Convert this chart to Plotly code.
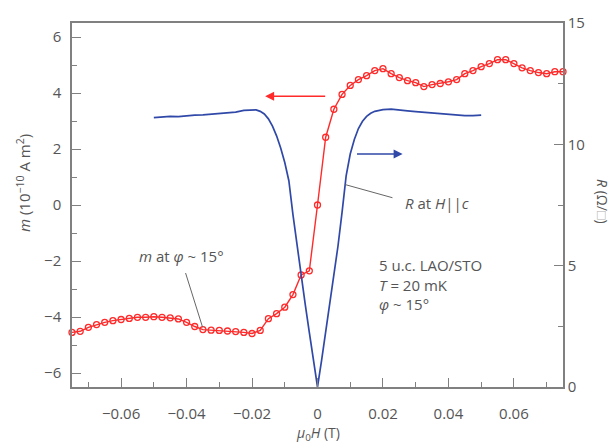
import plotly.graph_objects as go

# Magnetic moment m (left axis), open markers every 2.5 mT
m_field = [
    -0.075, -0.0725, -0.070, -0.0675, -0.065, -0.0625, -0.060, -0.0575, -0.055, -0.0525,
    -0.050, -0.0475, -0.045, -0.0425, -0.040, -0.0375, -0.035, -0.0325, -0.030, -0.0275,
    -0.025, -0.0225, -0.020, -0.0175, -0.015, -0.0125, -0.010, -0.0075, -0.005, -0.0025,
    0.0, 0.0025, 0.005, 0.0075, 0.010, 0.0125, 0.015, 0.0175, 0.020, 0.0225,
    0.025, 0.0275, 0.030, 0.0325, 0.035, 0.0375, 0.040, 0.0425, 0.045, 0.0475,
    0.050, 0.0525, 0.055, 0.0575, 0.060, 0.0625, 0.065, 0.0675, 0.070, 0.0725, 0.075,
]
m_values = [
    -4.55, -4.51, -4.37, -4.27, -4.19, -4.13, -4.09, -4.05, -4.01, -4.01,
    -3.99, -4.01, -4.03, -4.07, -4.19, -4.34, -4.45, -4.47, -4.48, -4.50,
    -4.52, -4.55, -4.59, -4.48, -4.06, -3.88, -3.65, -3.20, -2.50, -2.35,
    0.00, 2.42, 3.42, 3.95, 4.27, 4.48, 4.62, 4.80, 4.87, 4.69,
    4.55, 4.44, 4.37, 4.23, 4.30, 4.34, 4.40, 4.48, 4.69, 4.80,
    4.94, 5.05, 5.19, 5.19, 5.05, 4.90, 4.80, 4.73, 4.69, 4.76, 4.76,
]

# Sheet resistance R (right axis)
r_field = [
    -0.050, -0.0475, -0.045, -0.0425, -0.040, -0.0375, -0.035, -0.0325, -0.030, -0.0275,
    -0.025, -0.0225, -0.020, -0.01875, -0.0175, -0.01625, -0.015, -0.01375, -0.0125, -0.01125,
    -0.010, -0.00875, -0.0075, -0.00625, -0.005, -0.00375, -0.0025, -0.00125, 0.0,
    0.00125, 0.0025, 0.00375, 0.005, 0.00625, 0.0075, 0.00875, 0.010, 0.01125, 0.0125,
    0.01375, 0.015, 0.01625, 0.0175, 0.01875, 0.020, 0.0225, 0.025, 0.0275, 0.030,
    0.0325, 0.035, 0.0375, 0.040, 0.0425, 0.045, 0.0475, 0.050,
]
r_values = [
    11.10, 11.13, 11.15, 11.14, 11.18, 11.20, 11.21, 11.24, 11.26, 11.30,
    11.33, 11.40, 11.43, 11.42, 11.36, 11.25, 11.05, 10.75, 10.35, 9.85,
    9.25, 8.50, 7.10, 5.80, 4.55, 3.40, 2.25, 1.10, 0.00,
    1.10, 2.25, 3.40, 4.55, 5.80, 7.20, 8.70, 9.60, 10.20, 10.65,
    10.95, 11.15, 11.28, 11.36, 11.40, 11.43, 11.45, 11.40, 11.38, 11.35,
    11.32, 11.28, 11.25, 11.22, 11.20, 11.18, 11.18, 11.20,
]

RED = "#ff2a2a"
BLUE = "#3049a8"
AX = "#808080"
TXT = "#555555"
FONT = "Open Sans"

fig = go.Figure()
fig.add_trace(go.Scatter(
    x=r_field, y=r_values, yaxis="y2", mode="lines",
    line=dict(color=BLUE, width=1.7), showlegend=False))
fig.add_trace(go.Scatter(
    x=m_field, y=m_values, mode="lines+markers",
    line=dict(color=RED, width=1.4),
    marker=dict(symbol="circle-open", size=6, color=RED, line=dict(width=1.3, color=RED)),
    showlegend=False, cliponaxis=False))

common_tick = dict(ticks="inside", ticklen=9, tickwidth=1.3, tickcolor=AX,
                   showline=True, linecolor=AX, linewidth=1.5, showgrid=False,
                   zeroline=False, tickfont=dict(family=FONT, size=15, color=TXT))

fig.update_layout(
    width=616, height=448,
    margin=dict(l=72, r=53, t=20, b=61),
    paper_bgcolor="white", plot_bgcolor="white",
    font=dict(family=FONT, color=TXT),
    xaxis=dict(range=[-0.075, 0.075], mirror=True,
               tickvals=[-0.06, -0.04, -0.02, 0, 0.02, 0.04, 0.06],
               ticktext=["−0.06", "−0.04", "−0.02", "0", "0.02", "0.04", "0.06"],
               minor=dict(ticks="inside", ticklen=5, tickcolor=AX, dtick=0.01, tick0=0),
               ticklabelstandoff=12, **common_tick),
    yaxis=dict(range=[-6.5, 6.5], tickvals=[-6, -4, -2, 0, 2, 4, 6],
               ticktext=["−6", "−4", "−2", "0", "2", "4", "6"],
               minor=dict(ticks="inside", ticklen=5, tickcolor=AX, dtick=1, tick0=0),
               ticklabelstandoff=6, **common_tick),
    yaxis2=dict(range=[0, 15], overlaying="y", side="right", tickvals=[0, 5, 10, 15],
                minor=dict(ticks="inside", ticklen=5, tickcolor=AX, dtick=2.5, tick0=0),
                ticklabelstandoff=0, **common_tick),
)

ann_font = dict(family=FONT, size=15, color=TXT)
annotations = [
    # axis titles
    dict(text="<i>m</i> (10<sup>−10</sup> A m<sup>2</sup>)", xref="paper", yref="paper",
         x=-0.1, y=0.56, textangle=-90, showarrow=False, font=ann_font,
         xanchor="center", yanchor="middle"),
    dict(text="<i>R</i> (Ω/<span style='color:#b0b0b0'>□</span>)", xref="paper", yref="paper",
         x=1.08, y=0.51, textangle=90, showarrow=False, font=dict(family=FONT, size=14, color=TXT),
         xanchor="center", yanchor="middle"),
    dict(text="<i>μ</i><sub>0</sub><i>H</i> (T)", xref="paper", yref="paper",
         x=0.5, y=-0.163, showarrow=False, font=dict(family=FONT, size=14, color=TXT),
         xanchor="center", yanchor="bottom"),
    # text block
    dict(text="5 u.c. LAO/STO<br><i>T</i> = 20 mK<br><i>φ</i> ~ 15°", xref="x", yref="y",
         x=0.0183, y=-2.85, showarrow=False, font=ann_font, xanchor="left", yanchor="middle",
         align="left"),
    # labels with leader lines
    dict(text="<i>R</i> at <i>H</i>||<i>c</i>", xref="x", yref="y2", x=0.0262, y=7.6,
         showarrow=False, font=ann_font, xanchor="left", yanchor="middle"),
    dict(text="<i>m</i> at <i>φ</i> ~ 15°", xref="x", yref="y", x=-0.0550, y=-1.82,
         showarrow=False, font=ann_font, xanchor="left", yanchor="middle"),
    # direction arrows
    dict(x=-0.0160, y=3.88, ax=0.0028, ay=3.88, xref="x", yref="y", axref="x", ayref="y",
         showarrow=True, arrowhead=2, arrowsize=1.2, arrowwidth=1.5, arrowcolor=RED, text=""),
    dict(x=0.0260, y=9.6, ax=0.0116, ay=9.6, xref="x", yref="y2", axref="x", ayref="y2",
         showarrow=True, arrowhead=2, arrowsize=1.2, arrowwidth=1.5, arrowcolor=BLUE, text=""),
]
fig.update_layout(annotations=annotations)

# leader lines
fig.add_shape(type="line", xref="x", yref="y2", x0=0.0085, y0=8.34, x1=0.0229, y1=7.8,
              line=dict(color="#666666", width=1))
fig.add_shape(type="line", xref="x", yref="y", x0=-0.0403, y0=-2.43, x1=-0.0351, y1=-4.37,
              line=dict(color="#666666", width=1))

fig.write_html("out.html", config={"displayModeBar": False},
               post_script="document.body.style.margin='0';")
